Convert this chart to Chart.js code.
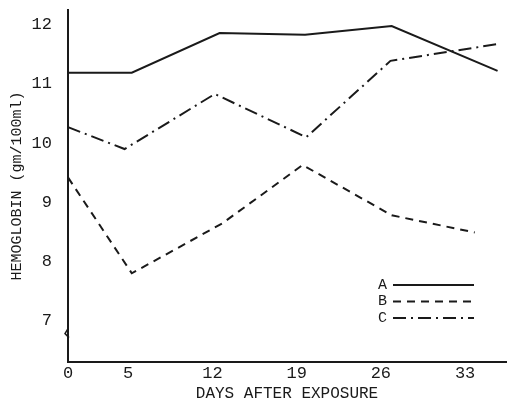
<!DOCTYPE html>
<html>
<head>
<meta charset="utf-8">
<script src="https://cdn.jsdelivr.net/npm/chart.js@4/dist/chart.umd.min.js"></script>
<style>
  html, body { margin: 0; padding: 0; background: #fff; }
  #wrap { width: 508px; height: 405px; }
</style>
</head>
<body>
<div id="wrap"><canvas id="hbChart"></canvas></div>
<script>
// Values
const seriesNames = ["A", "B", "C"];
const daysA = [0, 5.3, 12.6, 19.7, 26.9, 35.7];
const hbA = [11.19, 11.19, 11.86, 11.83, 11.98, 11.22];
const daysB = [0, 5.3, 12.8, 19.5, 26.9, 33.8];
const hbB = [9.42, 7.80, 8.64, 9.63, 8.78, 8.49];
const daysC = [0, 4.7, 12.2, 19.8, 26.8, 35.9];
const hbC = [10.27, 9.90, 10.83, 10.10, 11.39, 11.68];
const xTicks = [0, 5, 12, 19, 26, 33];
const yTicks = [7, 8, 9, 10, 11, 12];

const ink = "#1a1a1a";
const typeFont = "'Liberation Mono', 'DejaVu Sans Mono', monospace";

function toPoints(xs, ys) {
  return xs.map((x, i) => ({ x: x, y: ys[i] }));
}

// --- legend drawn inside the plot: letter first, then a line sample ---
const insideLegend = {
  id: "insideLegend",
  afterDraw(chart) {
    const ctx = chart.ctx;
    const area = chart.chartArea;
    const x0 = area.right - 128;
    const y0 = area.top + 275;
    ctx.save();
    ctx.font = "15px " + typeFont;
    ctx.fillStyle = ink;
    ctx.textBaseline = "middle";
    chart.data.datasets.forEach((ds, i) => {
      const y = y0 + i * 16.5;
      ctx.fillText(ds.label, x0, y);
      ctx.strokeStyle = ds.borderColor;
      ctx.lineWidth = ds.borderWidth;
      ctx.setLineDash(ds.borderDash || []);
      ctx.beginPath();
      ctx.moveTo(x0 + 15, y);
      ctx.lineTo(x0 + 96, y);
      ctx.stroke();
    });
    ctx.restore();
  }
};

// --- little zigzag break on the y axis ---
const axisBreak = {
  id: "axisBreak",
  afterDraw(chart) {
    const ctx = chart.ctx;
    const yS = chart.scales.y;
    const x = chart.chartArea.left;
    const y = yS.getPixelForValue(6.78);
    ctx.save();
    ctx.strokeStyle = ink;
    ctx.lineWidth = 1.5;
    ctx.beginPath();
    ctx.moveTo(x, y - 5);
    ctx.lineTo(x - 3, y);
    ctx.lineTo(x + 1, y + 4);
    ctx.stroke();
    ctx.restore();
  }
};

const ctx = document.getElementById("hbChart").getContext("2d");
new Chart(ctx, {
  type: "line",
  data: {
    datasets: [
      { label: seriesNames[0], data: toPoints(daysA, hbA), borderDash: [] },
      { label: seriesNames[1], data: toPoints(daysB, hbB), borderDash: [8, 6] },
      { label: seriesNames[2], data: toPoints(daysC, hbC), borderDash: [13, 5, 2, 5] }
    ].map(ds => Object.assign(ds, {
      borderColor: ink,
      borderWidth: 2,
      pointRadius: 0,
      tension: 0,
      fill: false,
      clip: false
    }))
  },
  options: {
    responsive: true,
    maintainAspectRatio: false,
    animation: false,
    layout: { padding: { top: 10, right: 2, left: 0, bottom: 0 } },
    plugins: {
      legend: { display: false },
      tooltip: { enabled: false }
    },
    scales: {
      x: {
        type: "linear",
        min: 0,
        max: 36.4,
        afterBuildTicks: s => { s.ticks = xTicks.map(v => ({ value: v })); },
        afterFit: s => { s.height = 43; s.paddingLeft = 0; s.paddingRight = 0; },
        grid: { display: false },
        border: { display: true, color: ink, width: 2 },
        ticks: { color: ink, padding: -7, maxRotation: 0, font: { family: typeFont, size: 17 } },
        title: {
          display: true,
          text: "DAYS AFTER EXPOSURE",
          color: ink,
          padding: { top: 0, bottom: 2 },
          font: { family: typeFont, size: 16 }
        }
      },
      y: {
        type: "linear",
        min: 6.3,
        max: 12.25,
        afterBuildTicks: s => { s.ticks = yTicks.map(v => ({ value: v })); },
        afterFit: s => { s.width = 68; s.paddingTop = 0; s.paddingBottom = 0; },
        grid: { display: false },
        border: { display: true, color: ink, width: 2 },
        ticks: { color: ink, padding: 8, font: { family: typeFont, size: 17 } },
        title: {
          display: true,
          text: "HEMOGLOBIN (gm/100ml)",
          color: ink,
          padding: { top: 8, bottom: 0 },
          font: { family: typeFont, size: 15 }
        }
      }
    }
  },
  plugins: [insideLegend, axisBreak]
});
</script>
</body>
</html>
